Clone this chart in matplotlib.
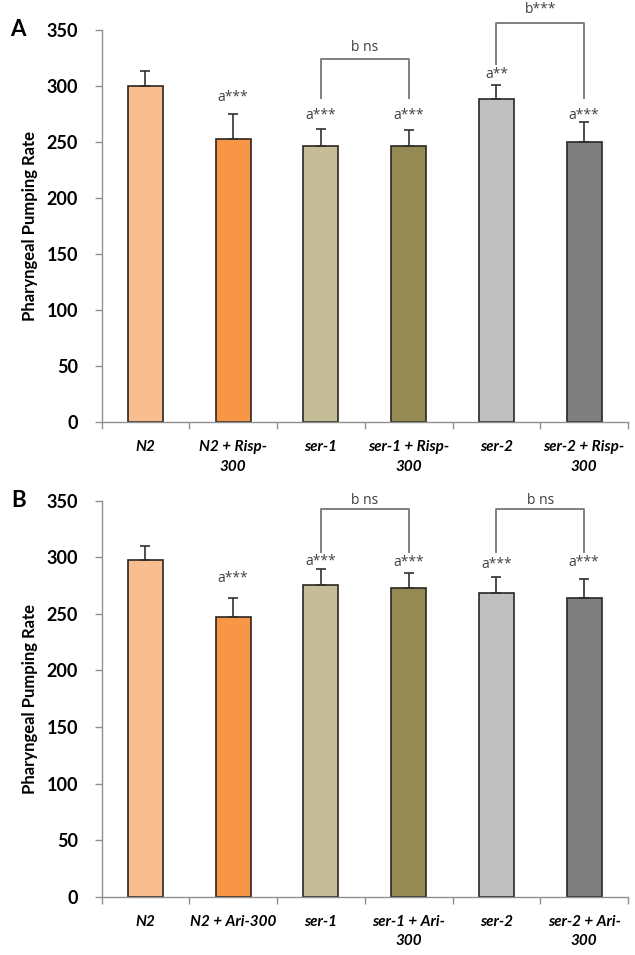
import matplotlib
matplotlib.use("Agg")
import matplotlib.pyplot as plt
import numpy as np

# ---------------- data ----------------
labels_A = ["N2", "N2 + Risp-\n300", "ser-1", "ser-1 + Risp-\n300", "ser-2", "ser-2 + Risp-\n300"]
labels_B = ["N2", "N2 + Ari-300", "ser-1", "ser-1 + Ari-\n300", "ser-2", "ser-2 + Ari-\n300"]
means_A = [300, 252.4, 246.7, 246.7, 288.7, 250.3]
err_A = [13.4, 22.6, 14.6, 14.3, 11.9, 17.7]
means_B = [297.6, 247.5, 275.5, 272.6, 268.2, 264.3]
err_B = [12.4, 16.2, 14.1, 13.8, 14.6, 16.7]
sig_A = ["", "a***", "a***", "a***", "a**", "a***"]
sig_y_A = [0, 290, 274, 274, 310, 274]
sig_B = ["", "a***", "a***", "a***", "a***", "a***"]
sig_y_B = [0, 281, 296, 295, 294, 295]
# brackets: (left idx, right idx, top, left leg bottom, right leg bottom, label, label y)
brackets_A = [(2, 3, 324, 289, 289, "b ns", 334), (4, 5, 356.5, 320, 289, "b***", 368)]
brackets_B = [(2, 3, 343, 305, 305, "b ns", 350.5), (4, 5, 343, 305, 305, "b ns", 350.5)]
colors = ["#F9BE8F", "#F79646", "#C4BD97", "#948A54", "#BFBFBF", "#7F7F7F"]
yticks = [0, 50, 100, 150, 200, 250, 300, 350]

FONT = "Lato"
ANNFONT = "Open Sans"
fig = plt.figure(figsize=(6.35, 9.55), dpi=100)

W, H = 635, 955
def axes_px(left, right, top, bottom):
    return fig.add_axes([left / W, 1 - bottom / H, (right - left) / W, (bottom - top) / H])

axA = axes_px(101.5, 628, 30, 422)
axB = axes_px(101.5, 628, 500.7, 896.7)

def draw(ax, labels, means, errs, sig, sig_y, brackets, letter):
    x = np.arange(len(labels))
    ax.bar(x, means, width=0.4, color=colors, edgecolor="#2e2620", linewidth=1.2, zorder=2)
    ax.errorbar(x, means, yerr=[np.zeros(len(errs)), errs], fmt="none",
                ecolor="#303030", elinewidth=1.2, capsize=3.5, capthick=1.2, zorder=3)
    for xi, s, yy in zip(x, sig, sig_y):
        if s:
            ax.text(xi, yy, s, ha="center", va="center", fontsize=10,
                    family=ANNFONT, color="#404040", clip_on=False)
    for l, r, top, bl, br, txt, ty in brackets:
        ax.plot([x[l], x[l], x[r], x[r]], [bl, top, top, br], color="#808080",
                lw=1.4, clip_on=False, zorder=3)
        ax.text((x[l] + x[r]) / 2, ty, txt, ha="center", va="center", fontsize=10,
                family=ANNFONT, color="#404040", clip_on=False)
    ax.set_xlim(-0.5, len(labels) - 0.5)
    ax.set_ylim(0, 350)
    ax.set_yticks(yticks)
    ax.set_yticklabels([str(t) for t in yticks], family=FONT, fontweight="bold", fontsize=13)
    ax.set_xticks(x)
    ax.set_xticklabels(labels, family=FONT, fontweight="bold", style="italic",
                       fontsize=11, linespacing=1.5)
    ax.set_xticks(np.arange(-0.5, len(labels)), minor=True)
    ax.tick_params(axis="x", which="major", length=0, pad=13)
    ax.tick_params(axis="x", which="minor", length=5, color="#909090", width=1)
    ax.tick_params(axis="y", length=5, color="#909090", width=1, pad=12)
    for s in ["top", "right"]:
        ax.spines[s].set_visible(False)
    for s in ["left", "bottom"]:
        ax.spines[s].set_color("#909090")
        ax.spines[s].set_linewidth(1)
    ax.set_ylabel("Pharyngeal Pumping Rate", family=FONT, fontweight="bold", fontsize=12)
    ax.yaxis.set_label_coords(-0.121, 0.5)
    ax.text(-0.158, 1.0, letter, transform=ax.transAxes, ha="center", va="center",
            fontsize=16, fontweight="bold", family=FONT)

draw(axA, labels_A, means_A, err_A, sig_A, sig_y_A, brackets_A, "A")
draw(axB, labels_B, means_B, err_B, sig_B, sig_y_B, brackets_B, "B")

fig.savefig("out.png", dpi=100)
